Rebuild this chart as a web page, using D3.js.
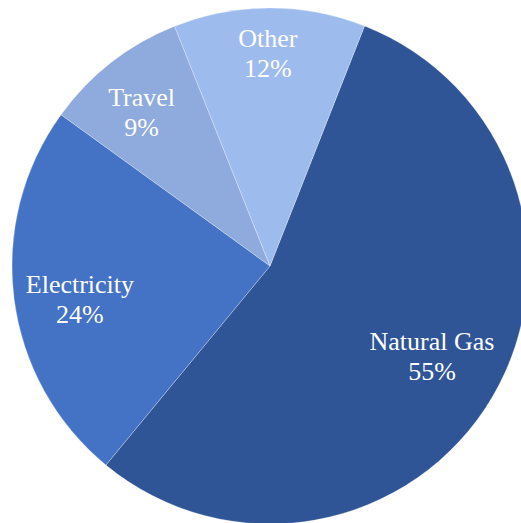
<!DOCTYPE html>
<html><head><meta charset="utf-8">
<script src="https://cdn.jsdelivr.net/npm/d3@7"></script>
<style>html,body{margin:0;padding:0;background:#fff;overflow:hidden}</style>
</head><body>
<svg id="chart" width="521" height="523"></svg>
<script>
const categories = ["Natural Gas", "Electricity", "Travel", "Other"];
const values = [55, 24, 9, 12];
const percentLabels = ["55%", "24%", "9%", "12%"];

const colors = ["#2F5597", "#4472C4", "#8FAADC", "#9EBBEE"];
// label placement styling (radius fraction, angular nudge in degrees)
const labelRadiusFactor = [0.722, 0.749, 0.771, 0.818];
const labelAngleNudge = [-0.9, -3.1, -2.3, -0.5];

const svg = d3.select("#chart");
const cx = 270, cy = 266, R = 258;
const g = svg.append("g").attr("transform", `translate(${cx},${cy})`);

const startAngle = 21.5 * Math.PI / 180;
const pie = d3.pie().sort(null).value(d => d)
  .startAngle(startAngle).endAngle(startAngle + 2 * Math.PI);
const arcs = pie(values);
const arc = d3.arc().innerRadius(0).outerRadius(R);

g.selectAll("path").data(arcs).join("path")
  .attr("d", arc)
  .attr("fill", (d, i) => colors[i])
  .attr("stroke", "#ffffff")
  .attr("stroke-opacity", 0.35)
  .attr("stroke-width", 0.8);

const labels = g.selectAll("text.lbl").data(arcs).join("text")
  .attr("class", "lbl")
  .attr("text-anchor", "middle")
  .attr("fill", "#ffffff")
  .style("font-family", "'Liberation Serif','Times New Roman',serif")
  .style("font-size", "26px")
  .attr("transform", (d, i) => {
    const a = (d.startAngle + d.endAngle) / 2 + labelAngleNudge[i] * Math.PI / 180;
    const r = R * labelRadiusFactor[i];
    return `translate(${r * Math.sin(a)},${-r * Math.cos(a)})`;
  });
labels.append("tspan").attr("x", 0).attr("y", -8).text((d, i) => categories[i]);
labels.append("tspan").attr("x", 0).attr("y", 22).text((d, i) => percentLabels[i]);
</script>
</body></html>
